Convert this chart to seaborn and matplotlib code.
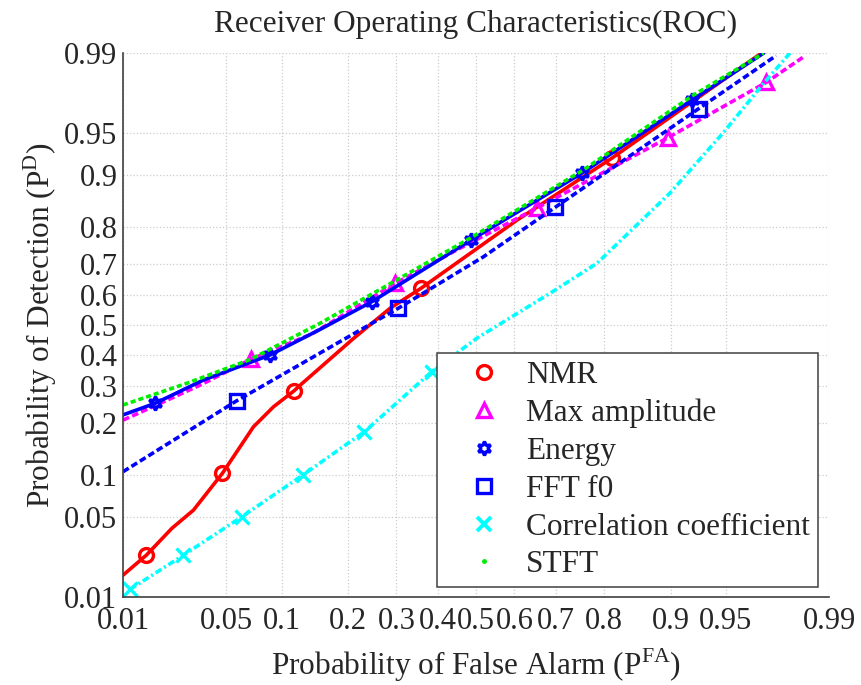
import math
import numpy as np
import seaborn as sns
import matplotlib
matplotlib.use("Agg")
import matplotlib.pyplot as plt
from matplotlib.lines import Line2D
from matplotlib.ticker import FixedLocator, FixedFormatter, NullLocator

# ROC curves (probabilities)
nmr_x = [0.010, 0.0149, 0.0225, 0.0313, 0.0473, 0.0712, 0.0909, 0.1153, 0.124, 0.2095, 0.2855, 0.358, 0.606, 0.814, 0.970]
nmr_y = [0.0162, 0.0245, 0.041, 0.0567, 0.1023, 0.192, 0.242, 0.287, 0.305, 0.454, 0.557, 0.623, 0.815, 0.923, 0.990]
nmr_marks = [1, 4, 7, 11, 13]

amp_x = [0.010, 0.0172, 0.035, 0.069, 0.14, 0.297, 0.45, 0.657, 0.897, 0.972, 0.985]
amp_y = [0.208, 0.245, 0.305, 0.385, 0.47, 0.639, 0.74, 0.842, 0.9455, 0.981, 0.9894]
amp_marks = [3, 5, 7, 8, 9]

en_x = [0.010, 0.0172, 0.0362, 0.0874, 0.152, 0.246, 0.486, 0.757, 0.923, 0.971]
en_y = [0.221, 0.2515, 0.319, 0.399, 0.485, 0.579, 0.766, 0.903, 0.973, 0.990]
en_marks = [1, 3, 5, 6, 7, 8]

fft_x = [0.010, 0.0574, 0.304, 0.519, 0.699, 0.929, 0.976]
fft_y = [0.1048, 0.2586, 0.557, 0.720, 0.843, 0.968, 0.9894]
fft_marks = [1, 2, 4, 5]

cc_x = [0.0113, 0.0269, 0.0614, 0.1268, 0.231, 0.385, 0.502, 0.687, 0.787, 0.899, 0.948, 0.971, 0.9807]
cc_y = [0.0119, 0.0245, 0.0505, 0.0997, 0.1807, 0.345, 0.455, 0.607, 0.701, 0.870, 0.9495, 0.9807, 0.990]
cc_marks = [0, 1, 2, 3, 4, 5]

st_x = [0.010, 0.0283, 0.0683, 0.152, 0.293, 0.484, 0.760, 0.924, 0.971]
st_y = [0.247, 0.309, 0.384, 0.506, 0.644, 0.771, 0.9076, 0.9754, 0.990]

ticks = [0.01, 0.05, 0.1, 0.2, 0.3, 0.4, 0.5, 0.6, 0.7, 0.8, 0.9, 0.95, 0.99]
tick_labels = ['0.01', '0.05', '0.1', '0.2', '0.3', '0.4', '0.5', '0.6', '0.7', '0.8', '0.9', '0.95', '0.99']


# normal probability (probit) scale, no scipy available
_a = [-3.969683028665376e+01, 2.209460984245205e+02, -2.759285104469687e+02,
      1.383577518672690e+02, -3.066479806614716e+01, 2.506628277459239e+00]
_b = [-5.447609879822406e+01, 1.615858368580409e+02, -1.556989798598866e+02,
      6.680131188771972e+01, -1.328068155288572e+01]
_c = [-7.784894002430293e-03, -3.223964580411365e-01, -2.400758277161838e+00,
      -2.549671010243197e+00, 4.374664141464968e+00, 2.938163982698783e+00]
_d = [7.784695709041462e-03, 3.224671290700398e-01, 2.445134137142996e+00,
      3.754408661907416e+00]


def probit(p):
    p = np.clip(np.asarray(p, dtype=float), 1e-10, 1 - 1e-10)
    plow = 0.02425
    q = p - 0.5
    r = q * q
    central = (((((_a[0]*r + _a[1])*r + _a[2])*r + _a[3])*r + _a[4])*r + _a[5]) * q / \
              (((((_b[0]*r + _b[1])*r + _b[2])*r + _b[3])*r + _b[4])*r + 1)
    ql = np.sqrt(-2 * np.log(p))
    low = (((((_c[0]*ql + _c[1])*ql + _c[2])*ql + _c[3])*ql + _c[4])*ql + _c[5]) / \
          ((((_d[0]*ql + _d[1])*ql + _d[2])*ql + _d[3])*ql + 1)
    qh = np.sqrt(-2 * np.log(1 - p))
    high = -(((((_c[0]*qh + _c[1])*qh + _c[2])*qh + _c[3])*qh + _c[4])*qh + _c[5]) / \
           ((((_d[0]*qh + _d[1])*qh + _d[2])*qh + _d[3])*qh + 1)
    return np.where(p < plow, low, np.where(p > 1 - plow, high, central))


_erf = np.vectorize(math.erf)


def norm_cdf(z):
    z = np.asarray(z, dtype=float)
    return 0.5 * (1 + _erf(z / math.sqrt(2)))


sns.set_style("white")
plt.rcParams['font.family'] = ['Liberation Serif', 'DejaVu Serif']
plt.rcParams['font.size'] = 22

fig = plt.figure(figsize=(8.61, 6.85), dpi=100)
ax = fig.add_axes([0.1429, 0.1285, 0.82, 0.794])
ax.set_xscale('function', functions=(probit, norm_cdf))
ax.set_yscale('function', functions=(probit, norm_cdf))

lw = 2.6
dash = (0, (1.85, 0.9))
series = [
    (nmr_x, nmr_y, nmr_marks, 'red', 'o', '-', 'NMR'),
    (amp_x, amp_y, amp_marks, 'magenta', '^', dash, 'Max amplitude'),
    (en_x, en_y, en_marks, 'blue', (6, 1, 0), '-', 'Energy'),
    (fft_x, fft_y, fft_marks, 'blue', 's', dash, 'FFT f0'),
    (cc_x, cc_y, cc_marks, 'cyan', 'x', (0, (1.9, 0.85, 0.6, 0.85)), 'Correlation coefficient'),
]
for xs, ys, marks, col, mk, ls, name in series:
    sns.lineplot(x=xs, y=ys, ax=ax, sort=False, estimator=None, color=col,
                 linewidth=lw, linestyle=ls, marker=mk, markevery=marks,
                 markersize=10, fillstyle='none', markeredgewidth=2.4,
                 markeredgecolor=col)
sns.lineplot(x=st_x, y=st_y, ax=ax, sort=False, estimator=None, color='#00ee00',
             linewidth=lw, linestyle=(0, (1.4, 0.85)))

ax.set_xlim(0.01, 0.99)
ax.set_ylim(0.01, 0.99)
for axis in (ax.xaxis, ax.yaxis):
    axis.set_major_locator(FixedLocator(ticks))
    axis.set_major_formatter(FixedFormatter(tick_labels))
    axis.set_minor_locator(NullLocator())

ax.grid(True, color='#cccccc', linestyle=':', linewidth=0.9)
for side in ('top', 'right'):
    ax.spines[side].set_visible(False)
for side in ('left', 'bottom'):
    ax.spines[side].set_color('#404040')
    ax.spines[side].set_linewidth(1.2)
ax.tick_params(axis='x', direction='in', length=6, width=1.1, color='#404040', pad=7, labelsize=22)
ax.tick_params(axis='y', direction='in', length=6, width=1.1, color='#404040', pad=4, labelsize=22)

ax.set_title('Receiver Operating Characteristics(ROC)', fontsize=22.5, pad=15)
ax.set_xlabel(r'Probability of False Alarm (P$^{\mathregular{FA}}$)', fontsize=22.5, labelpad=8)
ax.set_ylabel(r'Probability of Detection (P$^{\mathregular{D}}$)', fontsize=22.5, labelpad=4)

handles = [
    Line2D([], [], linestyle='none', marker='o', color='red', markersize=10, fillstyle='none', markeredgewidth=2.4),
    Line2D([], [], linestyle='none', marker='^', color='magenta', markersize=10, fillstyle='none', markeredgewidth=2.4),
    Line2D([], [], linestyle='none', marker=(6, 1, 0), color='blue', markersize=10, fillstyle='none', markeredgewidth=2.4),
    Line2D([], [], linestyle='none', marker='s', color='blue', markersize=10, fillstyle='none', markeredgewidth=2.4),
    Line2D([], [], linestyle='none', marker='x', color='cyan', markersize=10, markeredgewidth=2.8),
    Line2D([], [], linestyle='none', marker='.', color='#00ee00', markersize=5),
]
labels = ['NMR', 'Max amplitude', 'Energy', 'FFT f0', 'Correlation coefficient', 'STFT']
leg = ax.legend(handles, labels, loc='lower right', bbox_to_anchor=(0.984, 0.018),
                borderaxespad=0, fontsize=22.5, frameon=True, fancybox=False,
                framealpha=1, edgecolor='#404040', handlelength=2.5,
                handletextpad=0.1, borderpad=0.25, labelspacing=0.28)
leg.get_frame().set_linewidth(1.1)

fig.savefig('out.png', dpi=100)
